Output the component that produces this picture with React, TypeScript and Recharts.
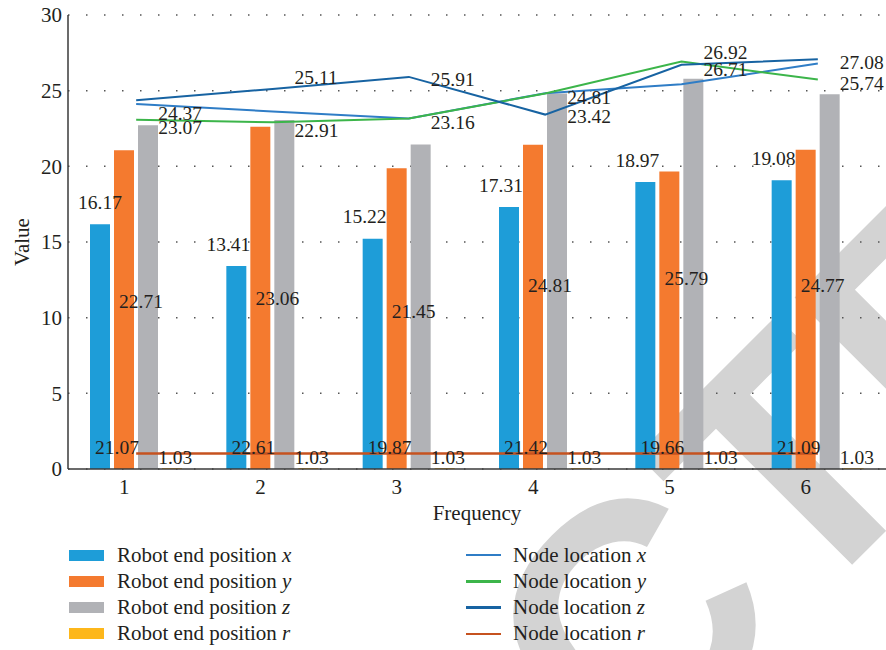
import React from 'react';
import {
  ComposedChart,
  Bar,
  Line,
  XAxis,
  YAxis,
  CartesianGrid,
  LabelList,
  Label,
} from 'recharts';

const frequencies = ['1', '2', '3', '4', '5', '6'];

const robotX = [16.17, 13.41, 15.22, 17.31, 18.97, 19.08];
const robotY = [21.07, 22.61, 19.87, 21.42, 19.66, 21.09];
const robotZ = [22.71, 23.06, 21.45, 24.81, 25.79, 24.77];
const robotR = [0.06, 0.06, 0.06, 0.06, 0.06, 0.06];

const nodeX = [24.12, 23.63, 23.16, 24.83, 25.42, 26.79];
const nodeY = [23.07, 22.91, 23.16, 24.81, 26.92, 25.74];
const nodeZ = [24.37, 25.11, 25.91, 23.42, 26.71, 27.08];
const nodeR = [1.03, 1.03, 1.03, 1.03, 1.03, 1.03];

const yTicks = [0, 5, 10, 15, 20, 25, 30];

// label nudges so neighbouring labels don't collide
const robotXLabelShift = [0, -8, -8, -8, -8, -8];
const nodeYLabelShift = [7, 8, 4, 4, -9, 4];
const nodeZLabelShift = [13, -12, 2, 2, 4, 3];

const rows = frequencies.map((f, i) => ({
  freq: f,
  rx: robotX[i],
  ry: robotY[i],
  rz: robotZ[i],
  rr: robotR[i],
  nx: nodeX[i],
  ny: nodeY[i],
  nz: nodeZ[i],
  nr: nodeR[i],
}));

const FONT = '"Liberation Serif", "Times New Roman", serif';
const INK = '#231f20';

const C = {
  rx: '#1e9dd8',
  ry: '#f47a2f',
  rz: '#b1b2b6',
  rr: '#fdb71b',
  nx: '#2f7dc6',
  ny: '#3cb54a',
  nz: '#1763a2',
  nr: '#c6521f',
};

const box = (p: any) => {
  const vb = p.viewBox || {};
  return {
    x: p.x ?? vb.x,
    y: p.y ?? vb.y,
    w: p.width ?? vb.width ?? 0,
    h: p.height ?? vb.height ?? 0,
  };
};

const fmt = (v: any) => Number(v).toFixed(2);

const labelText = (key: string, x: number, y: number, v: any, anchor = 'middle') => (
  <text
    key={key}
    x={x}
    y={y}
    dy="0.35em"
    textAnchor={anchor}
    fontFamily={FONT}
    fontSize={19.5}
    fill={INK}
  >
    {fmt(v)}
  </text>
);

const TopLabel = (p: any) => {
  const b = box(p);
  return labelText(`t${p.index}`, b.x + b.w / 2 + robotXLabelShift[p.index], b.y - 22, p.value);
};

const BaseLabel = (p: any) => {
  const b = box(p);
  return labelText(`b${p.index}`, b.x + b.w / 2 - 7, b.y + b.h - 22, p.value);
};

const MidLabel = (p: any) => {
  const b = box(p);
  return labelText(`m${p.index}`, b.x + b.w / 2 - 7, b.y + b.h / 2 + 4, p.value);
};

const rightLabel = (shift: number[]) => (p: any) => {
  const b = box(p);
  return labelText(`r${p.index}`, b.x + 22, b.y + shift[p.index], p.value, 'start');
};

const XTick = (p: any) => (
  <text x={p.x - 12} y={p.y + 10} dy="0.35em" textAnchor="middle" fontFamily={FONT} fontSize={21} fill={INK}>
    {p.payload.value}
  </text>
);

const legendLeft = [
  { name: 'Robot end position ', v: 'x', color: C.rx },
  { name: 'Robot end position ', v: 'y', color: C.ry },
  { name: 'Robot end position ', v: 'z', color: C.rz },
  { name: 'Robot end position ', v: 'r', color: C.rr },
];

const legendRight = [
  { name: 'Node location ', v: 'x', color: C.nx },
  { name: 'Node location ', v: 'y', color: C.ny },
  { name: 'Node location ', v: 'z', color: C.nz },
  { name: 'Node location ', v: 'r', color: C.nr },
];

const LegendBlock = () => (
  <div style={{ position: 'absolute', left: 0, top: 542, width: 886, fontFamily: FONT, fontSize: 21, color: INK }}>
    {legendLeft.map((it, i) => (
      <div key={it.v} style={{ position: 'absolute', left: 69, top: i * 26.3, height: 26, display: 'flex', alignItems: 'center' }}>
        <span style={{ display: 'inline-block', width: 35, height: 11, background: it.color, marginRight: 13 }} />
        <span>
          {it.name}
          <i>{it.v}</i>
        </span>
      </div>
    ))}
    {legendRight.map((it, i) => (
      <div key={it.v} style={{ position: 'absolute', left: 466, top: i * 26.3, height: 26, display: 'flex', alignItems: 'center' }}>
        <span style={{ display: 'inline-block', width: 35, height: 2.5, background: it.color, marginRight: 12 }} />
        <span>
          {it.name}
          <i>{it.v}</i>
        </span>
      </div>
    ))}
  </div>
);

// large pale stamp sitting behind the plot
const Stamp = () => (
  <svg width={886} height={650} style={{ position: 'absolute', left: 0, top: 0 }}>
    <text
      x={0}
      y={0}
      transform="translate(-187 1604) rotate(-45)"
      fontFamily='"Liberation Sans", Arial, sans-serif'
      fontWeight="bold"
      fontSize={334}
      fill="#d3d3d3"
    >
      RETRACTED
    </text>
  </svg>
);

export default function App() {
  return (
    <div style={{ position: 'absolute', left: 0, top: 0, width: 886, height: 650, background: '#fff', overflow: 'hidden' }}>
      <Stamp />
      <div style={{ position: 'absolute', left: 0, top: 0 }}>
        <ComposedChart
          width={886}
          height={530}
          data={rows}
          margin={{ top: 15, right: 0, bottom: 0, left: 0 }}
          barSize={20}
          barGap={4}
        >
          <CartesianGrid vertical={false} stroke="#555" strokeWidth={1.5} strokeDasharray="1.5 16.5" />
          <XAxis
            dataKey="freq"
            height={61}
            tickLine={false}
            tick={<XTick />}
            stroke="#3a3a3a"
            strokeWidth={1.5}
          >
            <Label value="Frequency" position="insideBottom" offset={10} fontFamily={FONT} fontSize={21} fill={INK} />
          </XAxis>
          <YAxis
            width={68}
            domain={[0, 30]}
            ticks={yTicks}
            tickLine={false}
            tickSize={0}
            tickMargin={6}
            stroke="#3a3a3a"
            strokeWidth={1.5}
            tick={{ fontFamily: FONT, fontSize: 21, fill: INK }}
          >
            <Label
              content={(p: any) => {
                const vb = p.viewBox;
                const cx = 22;
                const cy = vb.y + vb.height / 2;
                return (
                  <text x={cx} y={cy} transform={`rotate(-90 ${cx} ${cy})`} dy="0.35em" textAnchor="middle" fontFamily={FONT} fontSize={21} fill={INK}>
                    Value
                  </text>
                );
              }}
            />
          </YAxis>

          <Bar dataKey="rx" fill={C.rx} isAnimationActive={false}>
            <LabelList dataKey="rx" content={TopLabel} />
          </Bar>
          <Bar dataKey="ry" fill={C.ry} isAnimationActive={false}>
            <LabelList dataKey="ry" content={BaseLabel} />
          </Bar>
          <Bar dataKey="rz" fill={C.rz} isAnimationActive={false}>
            <LabelList dataKey="rz" content={MidLabel} />
          </Bar>
          <Bar dataKey="rr" fill={C.rr} isAnimationActive={false} />

          <Line type="linear" dataKey="nx" stroke={C.nx} strokeWidth={2} dot={false} isAnimationActive={false} />
          <Line type="linear" dataKey="ny" stroke={C.ny} strokeWidth={2} dot={false} isAnimationActive={false}>
            <LabelList dataKey="ny" content={rightLabel(nodeYLabelShift)} />
          </Line>
          <Line type="linear" dataKey="nz" stroke={C.nz} strokeWidth={2} dot={false} isAnimationActive={false}>
            <LabelList dataKey="nz" content={rightLabel(nodeZLabelShift)} />
          </Line>
          <Line type="linear" dataKey="nr" stroke={C.nr} strokeWidth={2.5} dot={false} isAnimationActive={false}>
            <LabelList dataKey="nr" content={rightLabel([4, 4, 4, 4, 4, 4])} />
          </Line>
        </ComposedChart>
      </div>
      <LegendBlock />
    </div>
  );
}
